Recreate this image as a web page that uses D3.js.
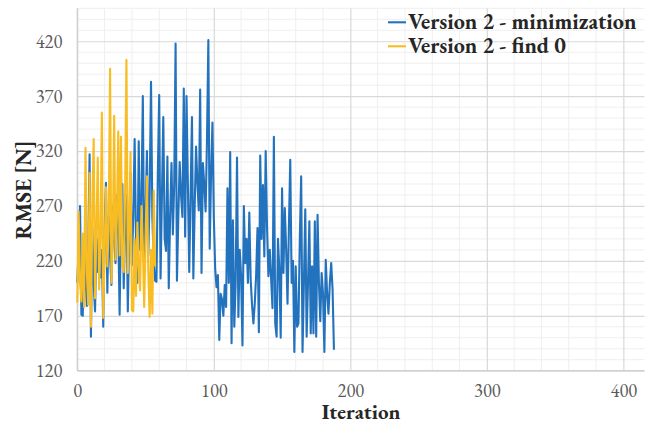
<!DOCTYPE html>
<html>
<head>
<meta charset="utf-8">
<script src="https://cdn.jsdelivr.net/npm/d3@7"></script>
<style>
  html, body { margin: 0; padding: 0; background: #fff; }
  svg { display: block; }
</style>
</head>
<body>
<div id="chart"></div>
<script>
// RMSE per iteration
const minimization = [
  200, 230, 270, 171, 170, 240, 205, 179, 230, 317,
  151, 250, 200, 174, 240, 210, 251, 205, 230, 160,
  250, 291, 191, 260, 225, 198, 270, 240, 218, 280,
  250, 171, 260, 290, 195, 250, 280, 174, 245, 300,
  216, 260, 331, 240, 200, 329, 230, 275, 370, 215,
  260, 320, 225, 280, 383, 260, 218, 202, 201, 300,
  371, 204, 280, 351, 240, 229, 315, 195, 260, 309,
  244, 290, 418, 202, 260, 310, 280, 260, 377, 242,
  370, 290, 210, 280, 351, 204, 270, 324, 290, 266,
  376, 209, 309, 290, 265, 330, 421, 231, 300, 346,
  260, 213, 196, 207, 148, 190, 185, 170, 198, 178,
  286, 200, 319, 145, 257, 160, 200, 314, 169, 230,
  206, 143, 270, 218, 240, 200, 264, 203, 180, 163,
  181, 207, 250, 155, 316, 240, 289, 224, 320, 250,
  206, 230, 203, 177, 333, 163, 151, 240, 212, 150,
  286, 209, 268, 230, 181, 250, 312, 200, 220, 137,
  215, 160, 163, 240, 297, 137, 200, 267, 151, 200,
  256, 154, 215, 154, 256, 151, 262, 200, 165, 209,
  190, 137, 221, 190, 172, 200, 218, 194, 139
];

const findZero = [
  182, 265, 200, 183, 245, 178, 323, 210, 180, 300,
  160, 270, 331, 186, 250, 314, 194, 240, 355, 168,
  230, 287, 215, 250, 395, 200, 240, 352, 221, 260,
  338, 225, 333, 215, 210, 280, 403, 209, 250, 319,
  175, 174, 240, 188, 255, 215, 193, 270, 233, 178,
  240, 297, 210, 169, 230, 172, 284, 215
];

const seriesNames = ["Version 2 - minimization", "Version 2 - find 0"];
const seriesColors = ["#2372be", "#f9bd24"];

const xTicks = [0, 100, 200, 300, 400];
const yTicks = [120, 170, 220, 270, 320, 370, 420];

const width = 648;
const height = 427;
const margin = { top: 8.3, right: 3.5, bottom: 56.3, left: 77.3 };
const innerWidth = width - margin.left - margin.right;
const innerHeight = height - margin.top - margin.bottom;

const fontFamily = "'EB Garamond', Garamond, 'Liberation Serif', 'DejaVu Serif', serif";

const svg = d3.select("#chart")
    .append("svg")
    .attr("width", width)
    .attr("height", height)
    .style("background", "#fff");

const xScale = d3.scaleLinear()
    .domain([0, 415.5])
    .range([0, innerWidth]);

const yScale = d3.scaleLinear()
    .domain([120, 450])
    .range([innerHeight, 0]);

const g = svg.append("g")
    .attr("transform", `translate(${margin.left}, ${margin.top})`);

// minor grid
const minorX = d3.range(20, 415, 20).filter(v => v % 100 !== 0);
const minorY = d3.range(130, 451, 10).filter(v => (v - 120) % 50 !== 0);

g.append("g").selectAll("line").data(minorX)
    .enter().append("line")
    .attr("x1", d => xScale(d)).attr("x2", d => xScale(d))
    .attr("y1", 0).attr("y2", innerHeight)
    .attr("stroke", "#efefef").attr("stroke-width", 1);

g.append("g").selectAll("line").data(minorY)
    .enter().append("line")
    .attr("x1", 0).attr("x2", innerWidth)
    .attr("y1", d => yScale(d)).attr("y2", d => yScale(d))
    .attr("stroke", "#efefef").attr("stroke-width", 1);

// major grid + tick labels
const yAxisG = g.append("g").call(
    d3.axisLeft(yScale).tickValues(yTicks).tickSize(-innerWidth).tickPadding(15)
);
yAxisG.select(".domain").remove();
yAxisG.selectAll("line").attr("stroke", "#d9d9d9").attr("stroke-width", 1.2);
yAxisG.selectAll("text")
    .attr("font-family", fontFamily)
    .attr("font-size", "18.5px")
    .attr("fill", "#595959");

const xAxisG = g.append("g")
    .attr("transform", `translate(0, ${innerHeight})`)
    .call(d3.axisBottom(xScale).tickValues(xTicks).tickSize(-innerHeight).tickPadding(13));
xAxisG.select(".domain").remove();
xAxisG.selectAll("line").attr("stroke", "#d9d9d9").attr("stroke-width", 1.2);
xAxisG.selectAll("text")
    .attr("font-family", fontFamily)
    .attr("font-size", "18.5px")
    .attr("fill", "#595959");

// axis lines
g.append("line")
    .attr("x1", 0).attr("x2", 0).attr("y1", 0).attr("y2", innerHeight)
    .attr("stroke", "#d0d0d0").attr("stroke-width", 1.3);
g.append("line")
    .attr("x1", 0).attr("x2", innerWidth).attr("y1", innerHeight).attr("y2", innerHeight)
    .attr("stroke", "#d0d0d0").attr("stroke-width", 1.3);

// series
const lineGenerator = d3.line()
    .x((d, i) => xScale(i))
    .y(d => yScale(d));

[minimization, findZero].forEach((data, k) => {
    g.append("path")
        .attr("fill", "none")
        .attr("stroke", seriesColors[k])
        .attr("stroke-width", 2.1)
        .attr("stroke-linejoin", "round")
        .attr("d", lineGenerator(data));
});

// legend
const legend = svg.append("g")
    .attr("transform", "translate(388, 22.3)");
seriesNames.forEach((name, k) => {
    const row = legend.append("g").attr("transform", `translate(0, ${k * 24})`);
    row.append("line")
        .attr("x1", 0).attr("x2", 18).attr("y1", 0).attr("y2", 0)
        .attr("stroke", seriesColors[k]).attr("stroke-width", 2.1);
    row.append("text")
        .attr("x", 20).attr("y", 6.5)
        .attr("font-family", fontFamily)
        .attr("font-size", "22px")
        .attr("font-weight", "bold")
        .attr("fill", "#262626")
        .text(name);
});

// axis titles
svg.append("text")
    .attr("transform", `translate(31, 190) rotate(-90)`)
    .attr("text-anchor", "middle")
    .attr("font-family", fontFamily)
    .attr("font-size", "22px")
    .attr("font-weight", "bold")
    .attr("fill", "#262626")
    .text("RMSE [N]");

svg.append("text")
    .attr("x", 361)
    .attr("y", 419)
    .attr("text-anchor", "middle")
    .attr("font-family", fontFamily)
    .attr("font-size", "21px")
    .attr("font-weight", "bold")
    .attr("fill", "#262626")
    .text("Iteration");
</script>
</body>
</html>
